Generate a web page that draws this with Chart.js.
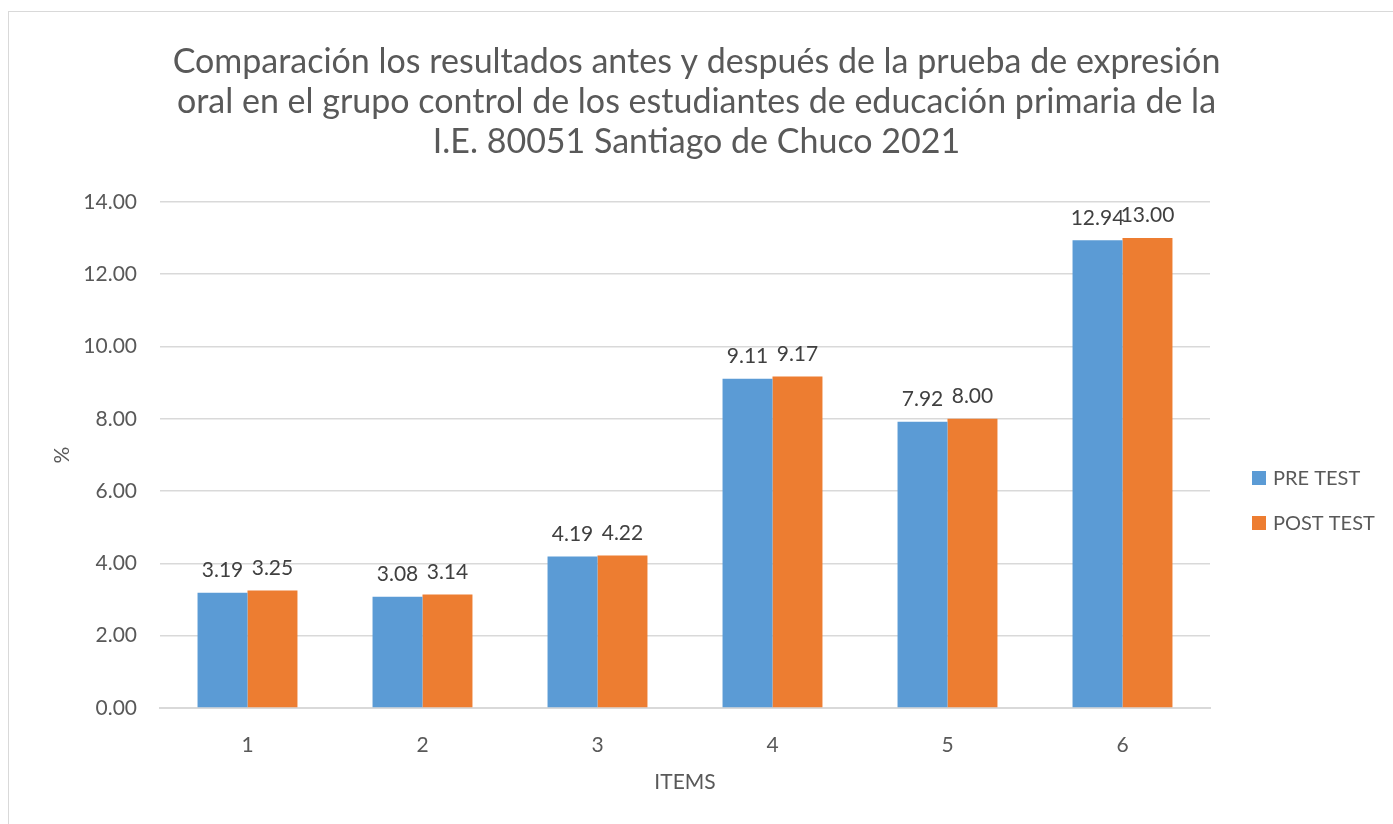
<!DOCTYPE html>
<html><head><meta charset="utf-8">
<script src="https://cdn.jsdelivr.net/npm/chart.js@4/dist/chart.umd.min.js"></script>
<style>
html,body{margin:0;padding:0;background:#fff;overflow:hidden;}
#frame{position:absolute;left:8px;top:11px;width:1400px;height:900px;border:1.5px solid #d9d9d9;box-sizing:border-box;}
#wrap{position:absolute;left:0;top:0;width:1393px;height:824px;}
</style></head>
<body>
<div id="frame"></div>
<div id="wrap"><canvas id="c" width="1393" height="824"></canvas></div>
<script>
const categories = ['1','2','3','4','5','6'];
const preTest = [3.19, 3.08, 4.19, 9.11, 7.92, 12.94];
const postTest = [3.25, 3.14, 4.22, 9.17, 8.00, 13.00];
const seriesNames = ['PRE TEST','POST TEST'];
const titleLines = ['Comparación los resultados antes y después de la prueba de expresión','oral en el grupo control de los estudiantes de educación primaria de la','I.E. 80051 Santiago de Chuco 2021'];
const FONT = 'Lato, "Open Sans", sans-serif';

const labelPlugin = {
  id:'valLabels',
  afterDatasetsDraw(chart){
    const ctx = chart.ctx;
    ctx.save();
    ctx.font = '21px ' + FONT;
    ctx.fillStyle = '#404040';
    ctx.textAlign = 'center';
    ctx.textBaseline = 'bottom';
    chart.data.datasets.forEach((ds,i)=>{
      chart.getDatasetMeta(i).data.forEach((bar,j)=>{
        ctx.fillText(ds.data[j].toFixed(2), bar.x, bar.y - 12);
      });
    });
    ctx.restore();
  }
};

const legendPlugin = {
  id:'sideLegend',
  afterDraw(chart){
    const ctx = chart.ctx;
    ctx.save();
    ctx.font = '20px ' + FONT;
    ctx.textAlign = 'left';
    ctx.textBaseline = 'middle';
    const x0 = 1252, ys = [478, 523];
    chart.data.datasets.forEach((ds,i)=>{
      ctx.fillStyle = ds.backgroundColor;
      ctx.fillRect(x0, ys[i]-7, 14, 14);
      ctx.fillStyle = '#595959';
      ctx.fillText(ds.label, x0 + 21, ys[i] + 1);
    });
    ctx.restore();
  }
};

new Chart(document.getElementById('c'), {
  type:'bar',
  data:{
    labels:categories,
    datasets:[
      {label:seriesNames[0], data:preTest, backgroundColor:'#5b9bd5', categoryPercentage:0.571, barPercentage:1.0},
      {label:seriesNames[1], data:postTest, backgroundColor:'#ed7d31', categoryPercentage:0.571, barPercentage:1.0}
    ]
  },
  options:{
    responsive:false,
    animation:false,
    devicePixelRatio:1,
    layout:{padding:{left:0,right:0,top:42,bottom:0}},
    plugins:{
      title:{display:true,text:titleLines,color:'#595959',font:{family:FONT,size:34,weight:'normal',lineHeight:1.176},padding:{top:0,bottom:40}},
      legend:{display:false},
      tooltip:{enabled:false}
    },
    scales:{
      x:{
        grid:{display:false},
        border:{display:true,color:'#d9d9d9',width:2},
        ticks:{color:'#595959',font:{family:FONT,size:21},padding:17},
        title:{display:true,text:'ITEMS',color:'#595959',font:{family:FONT,size:21},padding:{top:0,bottom:29}},
        afterFit(s){ s.height = 116; }
      },
      y:{
        min:0,max:14,
        grid:{color:'#d9d9d9',lineWidth:1.5,drawTicks:false},
        border:{display:false},
        ticks:{stepSize:2,color:'#595959',font:{family:FONT,size:21},padding:23,callback:v=>Number(v).toFixed(2)},
        title:{display:true,text:'%',color:'#595959',font:{family:FONT,size:21},padding:{top:50,bottom:0}},
        afterFit(s){ s.width = 160; }
      },
      yr:{
        position:'right',
        display:true,
        grid:{display:false,drawTicks:false},
        border:{display:false},
        ticks:{display:false},
        afterFit(s){ s.width = 183; }
      }
    }
  },
  plugins:[labelPlugin, legendPlugin]
});
</script>
</body></html>
